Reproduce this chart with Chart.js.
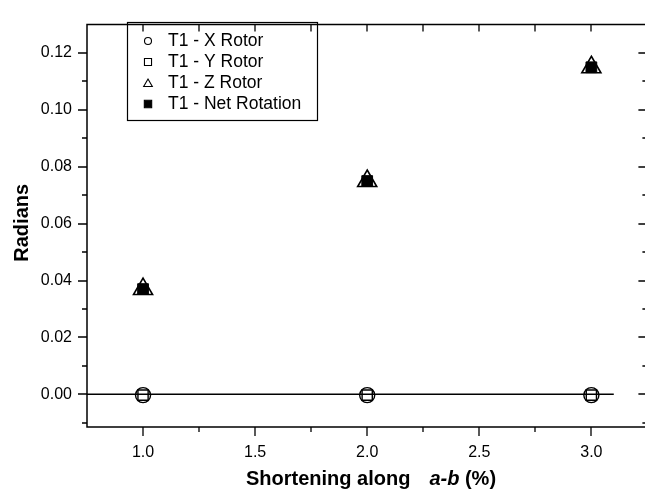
<!DOCTYPE html>
<html lang="en">
<head>
<meta charset="UTF-8">
<title>Rotation vs shortening along a-b</title>
<script src="https://cdn.jsdelivr.net/npm/chart.js"></script>
<style>
    html, body { margin: 0; padding: 0; overflow: hidden; background: #fff; }
    canvas { position: absolute; left: 0; top: 0; }
</style>
</head>
<body>
<canvas id="chart" width="660" height="491"></canvas>
<script>
    // values
    const shortening = [1.0, 2.0, 3.0];
    const xRotor = [-0.0003, -0.0003, -0.0003];
    const yRotor = [-0.0003, -0.0003, -0.0003];
    const zRotor = [0.037, 0.075, 0.115];
    const netRotation = [0.037, 0.075, 0.115];
    const zeroLineX = [0.75, 3.1];
    const xTickValues = [1.0, 1.5, 2.0, 2.5, 3.0];
    const yTickValues = [0.00, 0.02, 0.04, 0.06, 0.08, 0.10, 0.12];

    const FONT = '"Liberation Sans", Arial, sans-serif';

    function pts(ys) {
        return shortening.map((x, i) => ({ x: x, y: ys[i] }));
    }

    function shape(ctx, style, x, y, r, filled) {
        ctx.beginPath();
        if (style === 'circle') {
            ctx.arc(x, y, r, 0, Math.PI * 2);
        } else if (style === 'rect') {
            const s = r / Math.SQRT2;
            ctx.rect(x - s, y - s, 2 * s, 2 * s);
        } else if (style === 'triangle') {
            ctx.moveTo(x, y - r);
            ctx.lineTo(x + r * Math.sin(Math.PI * 2 / 3), y - r * Math.cos(Math.PI * 2 / 3));
            ctx.lineTo(x + r * Math.sin(Math.PI * 4 / 3), y - r * Math.cos(Math.PI * 4 / 3));
            ctx.closePath();
        }
        if (filled) ctx.fill();
        ctx.stroke();
    }

    // axis frame, inner/outer ticks, titles and the boxed legend
    const decor = {
        id: 'decor',
        afterDraw(chart) {
            const { ctx, chartArea: a, scales: { x, y } } = chart;
            ctx.save();
            ctx.strokeStyle = '#000';
            ctx.lineWidth = 1.5;
            ctx.beginPath();
            ctx.rect(a.left, a.top, a.right - a.left, a.bottom - a.top);
            ctx.stroke();

            ctx.lineWidth = 1.3;
            ctx.beginPath();
            for (let k = Math.ceil(x.min / 0.25); k <= Math.floor(x.max / 0.25); k++) {
                const px = Math.round(x.getPixelForValue(k * 0.25));
                if (px <= a.left + 1 || px >= a.right - 1) continue;
                const len = k % 2 === 0 ? 9 : 5;
                ctx.moveTo(px, a.bottom); ctx.lineTo(px, a.bottom + len);
                ctx.moveTo(px, a.top); ctx.lineTo(px, a.top + 7);
            }
            for (let k = Math.ceil(y.min / 0.01 - 1e-6); k <= Math.floor(y.max / 0.01 + 1e-6); k++) {
                const py = Math.round(y.getPixelForValue(k * 0.01));
                if (py <= a.top + 1 || py >= a.bottom - 1) continue;
                const len = k % 2 === 0 ? 9 : 5;
                ctx.moveTo(a.left, py); ctx.lineTo(a.left - len, py);
                ctx.moveTo(a.right, py); ctx.lineTo(a.right - len, py);
            }
            ctx.stroke();

            // axis titles
            ctx.fillStyle = '#000';
            ctx.textBaseline = 'middle';
            ctx.font = 'bold 20px ' + FONT;
            ctx.save();
            ctx.translate(22, (a.top + a.bottom) / 2 - 3);
            ctx.rotate(-Math.PI / 2);
            ctx.textAlign = 'center';
            ctx.fillText('Radians', 0, 0);
            ctx.restore();

            ctx.textAlign = 'left';
            const parts = [
                ['Shortening along', 'bold 20px ' + FONT, 19],
                ['a-b', 'italic bold 20px ' + FONT, 0],
                [' (%)', 'bold 20px ' + FONT, 0]
            ];
            let total = 0;
            parts.forEach(p => { ctx.font = p[1]; total += ctx.measureText(p[0]).width + p[2]; });
            let tx = 371 - total / 2;
            parts.forEach(p => {
                ctx.font = p[1];
                ctx.fillText(p[0], tx, 479);
                tx += ctx.measureText(p[0]).width + p[2];
            });

            // legend
            ctx.lineWidth = 1.2;
            ctx.strokeRect(127.5, 22.5, 190, 98);
            ctx.font = '17.5px ' + FONT;
            const items = chart.data.datasets.filter(d => d.legendRadius);
            items.forEach((d, i) => {
                const ry = 41 + i * 21;
                ctx.strokeStyle = '#000';
                ctx.fillStyle = '#000';
                ctx.lineWidth = 1.1;
                shape(ctx, d.pointStyle, 148, ry + (d.pointStyle === 'triangle' ? 1 : 0), d.legendRadius, d.backgroundColor === '#000');
                ctx.fillStyle = '#000';
                ctx.fillText(d.label, 168, ry);
            });
            ctx.restore();
        }
    };

    new Chart(document.getElementById('chart'), {
        type: 'scatter',
        data: {
            datasets: [
                {
                    type: 'line',
                    label: 'zero',
                    data: zeroLineX.map(v => ({ x: v, y: 0 })),
                    borderColor: '#000',
                    borderWidth: 1.6,
                    pointRadius: 0,
                    order: 6
                },
                {
                    label: 'T1 - X Rotor',
                    data: pts(xRotor),
                    pointStyle: 'circle',
                    pointRadius: 7.5,
                    borderColor: '#000',
                    backgroundColor: 'rgba(0,0,0,0)',
                    borderWidth: 1.4,
                    legendRadius: 3.5,
                    order: 4
                },
                {
                    label: 'T1 - Y Rotor',
                    data: pts(yRotor),
                    pointStyle: 'rect',
                    pointRadius: 7.2,
                    borderColor: '#000',
                    backgroundColor: 'rgba(0,0,0,0)',
                    borderWidth: 1.4,
                    legendRadius: 5,
                    order: 3
                },
                {
                    label: 'T1 - Z Rotor',
                    data: pts(zRotor),
                    pointStyle: 'triangle',
                    pointRadius: 11,
                    borderColor: '#000',
                    backgroundColor: 'rgba(0,0,0,0)',
                    borderWidth: 1.6,
                    legendRadius: 5,
                    order: 2
                },
                {
                    label: 'T1 - Net Rotation',
                    data: pts(netRotation),
                    pointStyle: 'rect',
                    pointRadius: 7.6,
                    borderColor: '#000',
                    backgroundColor: '#000',
                    borderWidth: 1,
                    legendRadius: 5.2,
                    order: 1
                }
            ]
        },
        options: {
            responsive: false,
            animation: false,
            layout: { padding: { top: 16, right: 12, left: 0, bottom: 0 } },
            plugins: {
                legend: { display: false },
                tooltip: { enabled: false }
            },
            scales: {
                x: {
                    type: 'linear',
                    min: 0.75,
                    max: 3.25,
                    grid: { display: false, drawTicks: false },
                    border: { display: false },
                    afterBuildTicks: s => { s.ticks = xTickValues.map(v => ({ value: v })); },
                    afterFit: s => { s.height = 64; },
                    ticks: {
                        padding: 16,
                        color: '#000',
                        font: { family: FONT, size: 16 },
                        callback: v => Number(v).toFixed(1)
                    }
                },
                y: {
                    min: -0.0115,
                    max: 0.13,
                    grid: { display: false, drawTicks: false },
                    border: { display: false },
                    afterBuildTicks: s => { s.ticks = yTickValues.map(v => ({ value: v })); },
                    afterFit: s => { s.width = 87; },
                    ticks: {
                        padding: 15,
                        color: '#000',
                        font: { family: FONT, size: 16 },
                        callback: v => Number(v).toFixed(2)
                    }
                }
            }
        },
        plugins: [decor]
    });
</script>
</body>
</html>
